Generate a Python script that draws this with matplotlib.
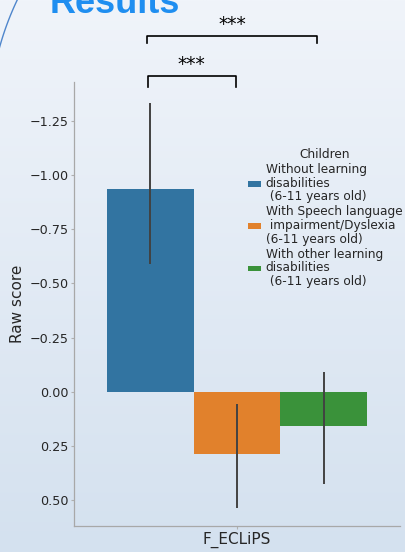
import numpy as np
import matplotlib
matplotlib.use("Agg")
import matplotlib.pyplot as plt
from matplotlib.patches import Patch
from matplotlib.lines import Line2D

# Bar data: mean raw score per group with confidence-interval limits
category = "F_ECLiPS"
groups = [
    "Without learning\ndisabilities\n (6-11 years old)",
    "With Speech language\n impairment/Dyslexia\n(6-11 years old)",
    "With other learning\ndisabilities\n (6-11 years old)",
]
means = [-0.936, 0.288, 0.158]
ci_low = [-1.33, 0.055, -0.09]
ci_high = [-0.59, 0.535, 0.425]
colors = ["#3274a1", "#e1812c", "#3a923a"]

# Significance brackets: (x start, x end, bar y, tip y, label)
brackets = [
    (-0.277, 0.246, -1.642, -1.607, "***"),
    (-0.274, -0.004, -1.456, -1.407, "***"),
]

W, H = 406, 552
fig = plt.figure(figsize=(W / 100, H / 100), dpi=100)

# Slide-style gradient background
bg = fig.add_axes([0, 0, 1, 1], zorder=-10)
top = np.array([240, 244, 250]) / 255
bot = np.array([212, 225, 239]) / 255
t = np.linspace(0, 1, 256)[:, None]
grad = top[None, :] * (1 - t) + bot[None, :] * t
bg.imshow(grad[:, None, :], aspect="auto", extent=[0, 1, 0, 1])
bg.set_axis_off()

# Decorative arc at the top-left corner
ang = np.linspace(np.pi * 0.98, np.pi * 1.3, 100)
cx, cy, r = 280, 125, 291
px = cx + r * np.cos(ang)
py = cy + r * np.sin(ang)
fig.add_artist(Line2D(px / W, 1 - py / H, color="#4f86cc", lw=1.0,
                      transform=fig.transFigure))

# Partially visible slide title
fig.text(50 / W, 1 - 13 / H, "Results", fontsize=26, fontweight="bold",
         color="#1f8ef0", family="Liberation Sans", va="baseline", ha="left")

ax = fig.add_axes([74 / W, 1 - 526 / H, (400 - 74) / W, (526 - 82) / H])
ax.patch.set_alpha(0)

n = len(groups)
width = 0.8 / n
xs = [-0.4 + width * (i + 0.5) for i in range(n)]
for i in range(n):
    ax.bar(xs[i], means[i], width=width, color=colors[i], label=groups[i],
           zorder=2)
    ax.vlines(xs[i], ci_low[i], ci_high[i], color="#424242", lw=1.4, zorder=3)

ax.set_xlim(-0.5, 0.5)
ax.set_ylim(0.619, -1.428)
ax.set_xticks([0])
ax.set_xticklabels([category], fontsize=11, color="#262626")
ax.set_yticks([-1.25, -1.0, -0.75, -0.5, -0.25, 0.0, 0.25, 0.5])
ax.set_yticklabels(["\u22121.25", "\u22121.00", "\u22120.75", "\u22120.50",
                    "\u22120.25", "0.00", "0.25", "0.50"])
ax.tick_params(axis="both", labelsize=9.2, labelcolor="#262626",
               color="#b0b0b0", length=2.5, width=0.8, pad=1.5)
ax.tick_params(axis="x", labelsize=11, pad=1.5)
ax.set_ylabel("Raw score", fontsize=11, color="#262626", labelpad=2.8)
for s in ["top", "right"]:
    ax.spines[s].set_visible(False)
for s in ["left", "bottom"]:
    ax.spines[s].set_color("#a8a8a8")
    ax.spines[s].set_linewidth(0.9)

for x1, x2, yb, yt, lab in brackets:
    ax.plot([x1, x1, x2, x2], [yt, yb, yb, yt], color="black", lw=1.2,
            clip_on=False)
    ax.text((x1 + x2) / 2, yb - 0.008, lab, ha="center", va="bottom",
            fontsize=13.5, clip_on=False)

handles = [Patch(facecolor=c) for c in colors]
leg = fig.legend(handles, groups, title="Children", loc="upper left",
                 bbox_to_anchor=(248 / W, 1 - 148 / H), frameon=False,
                 fontsize=8.7, title_fontsize=8.7, borderpad=0,
                 borderaxespad=0, handlelength=1.1, handleheight=0.35,
                 handletextpad=0.35, labelspacing=0.15)
for txt in leg.get_texts():
    txt.set_color("#262626")
    txt.set_linespacing(1.08)
leg.get_title().set_color("#262626")

fig.savefig("out.png", dpi=100)
